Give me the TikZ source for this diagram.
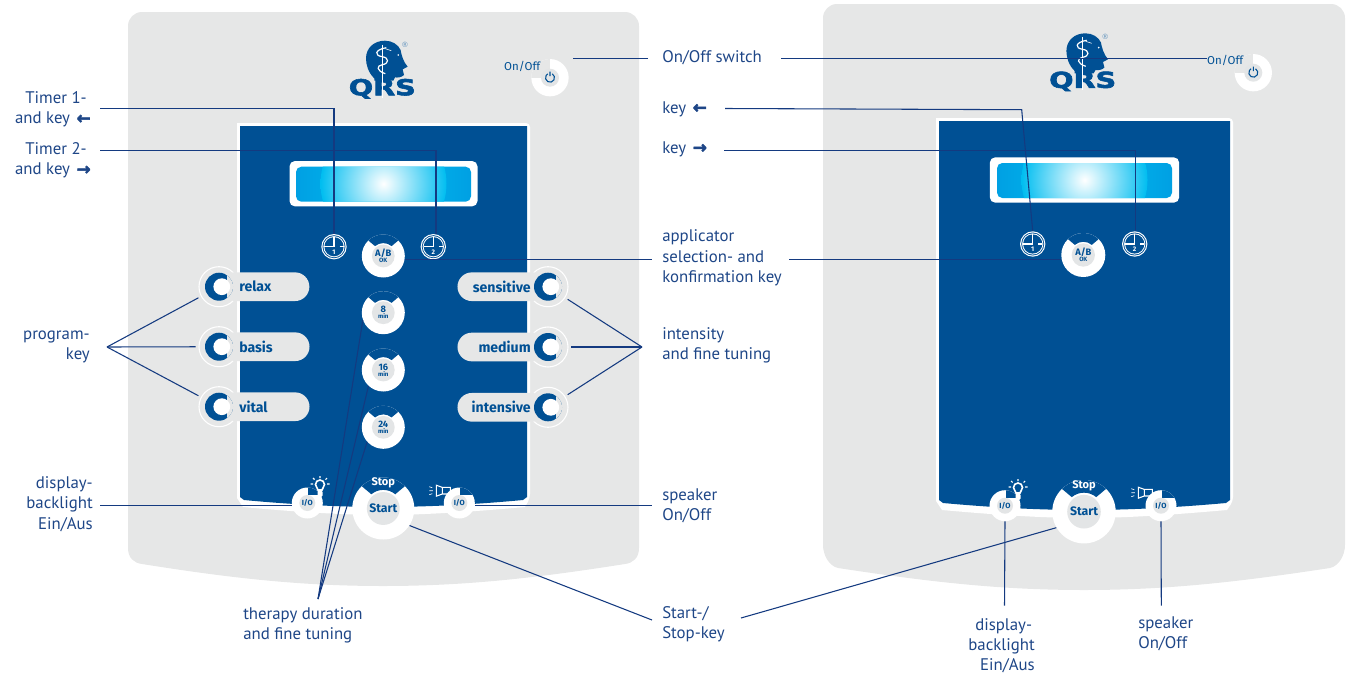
\documentclass[tikz,border=0pt]{standalone}
\usepackage{fontspec}
\setmainfont{PT Sans}
\newfontfamily\keyfont{Fira Sans}
\newfontfamily\symfont[BoldFeatures={FakeBold=2.5}]{DejaVu Sans}
\usetikzlibrary{positioning}
\usetikzlibrary{shapes.misc}
\definecolor{panelblue}{HTML}{005094}
\definecolor{panelgray}{HTML}{E6E7E7}
\definecolor{keygray}{HTML}{E3E5E6}
\definecolor{textblue}{HTML}{1E4687}
\definecolor{leaderblue}{HTML}{143A80}
\definecolor{dispedge}{HTML}{00A0E3}
\definecolor{dispglow}{HTML}{00BDF0}
\newcommand{\subkey}[1]{\\[-2.5pt]{\fontsize{4.6}{4.6}\selectfont #1}}
\tikzset{leader/.style={draw=leaderblue,line width=0.8pt}}
\tikzset{lbl/.style={text=textblue,inner sep=0pt,font=\fontsize{12.6}{15.2}\selectfont}}
\tikzset{lblL/.style={lbl,anchor=west,align=left}}
\tikzset{lblR/.style={lbl,anchor=east,align=right}}
\tikzset{keytext/.style={text=panelblue,inner sep=0pt,align=center,font=\keyfont\bfseries\fontsize{7}{7}\selectfont}}
\tikzset{starttext/.style={keytext,font=\keyfont\bfseries\fontsize{9.2}{10}\selectfont}}
\tikzset{iotext/.style={keytext,font=\keyfont\bfseries\fontsize{5.6}{6}\selectfont}}
\tikzset{clocktext/.style={text=white,inner sep=0pt,yshift=-3.8pt,font=\keyfont\bfseries\fontsize{5}{5}\selectfont}}
\tikzset{notchkey/.style={circle,fill=white,inner sep=0pt,minimum size=1.5pt*#1,
path picture={\begin{scope}[shift={(path picture bounding box.center)}]
\fill[panelblue] (135:1.2*#1) -- (130:0.6*#1) arc[start angle=130,end angle=50,radius=0.6*#1] -- (45:1.2*#1) -- (90:1.6*#1) -- cycle;
\fill[keygray] (0,0) circle (0.53*#1);
\end{scope}}}}
\tikzset{clockkey/.style={circle,fill=white,inner sep=0pt,minimum size=19pt,
path picture={\begin{scope}[shift={(path picture bounding box.center)}]
\fill[panelblue] (0,0) circle (11.5);
\fill[white] (0,0) circle (10.6);
\fill[panelblue] (0,0) circle (9.6);
\draw[white,line width=0.8pt] (0,9.6) -- (0,0) -- (-9.6,0) (5.5,0) -- (9.6,0);
\end{scope}}}}
\tikzset{iokey/.style={circle,fill=white,inner sep=0pt,minimum size=23.25pt,
path picture={\begin{scope}[shift={(path picture bounding box.center)},xscale=#1]
\fill[panelblue] (1,8) rectangle (18,18);
\fill[keygray] (0,0) circle (8);
\end{scope}}}}
\tikzset{powerkey/.style={circle,fill=white,inner sep=0pt,minimum size=28pt,
path picture={\begin{scope}[shift={(path picture bounding box.center)}]
\fill[panelgray] (-20,0) rectangle (0,20);
\fill[keygray] (0,0) circle (9);
\draw[panelblue,line width=0.8pt] (60:4.5) arc[start angle=60,end angle=-240,radius=4.5] (0,6) -- (0,1.5);
\end{scope}}}}
\tikzset{haloring/.style={circle,fill=panelgray,draw=white,line width=0.8pt,inner sep=0pt,minimum size=30pt,outer sep=2.5pt}}
\tikzset{ringkey/.style={circle,fill=panelblue,inner sep=0pt,minimum size=21pt,
path picture={\begin{scope}[shift={(path picture bounding box.center)},xscale=#1]
\fill[panelgray] (7.5,-15) rectangle (15,15);
\fill[white] (2.8,0) circle (8.4);
\end{scope}}}}
\tikzset{pillL/.style={rounded rectangle,rounded rectangle left arc=none,fill=panelgray,minimum height=21.5pt,inner xsep=5.25pt,inner ysep=0pt,
text width=46.5pt,align=left,text=panelblue,font=\keyfont\bfseries\fontsize{10.6}{11}\selectfont}}
\tikzset{pillR/.style={rounded rectangle,rounded rectangle right arc=none,fill=panelgray,minimum height=21.5pt,inner xsep=3pt,inner ysep=0pt,
text width=51pt,align=right,text=panelblue,font=\keyfont\bfseries\fontsize{10.6}{11}\selectfont}}
\tikzset{dispbox/.style={rectangle,rounded corners=4pt,fill=white,inner sep=0pt,minimum width=141pt,minimum height=34pt,
path picture={\begin{scope}[shift={(path picture bounding box.center)}]
\shade[left color=dispedge,right color=dispedge,middle color=dispglow] (-87.5,-18) rectangle (87.5,17);
\begin{scope}
\clip (-87.5,-18) rectangle (87.5,17);
\shade[inner color=white,outer color=dispglow] (0,0) circle (63);
\end{scope}
\end{scope}}}}
\tikzset{qrslogo/.pic={
\fill[panelblue] (-8,-19) -- (-8,-16.7) .. controls (-14,-11) and (-16.3,-3) .. (-16.3,3.3) .. controls (-16.3,14) and (-8,21) .. (2.7,21) .. controls (10,21) and (16,17) .. (18.3,11.7) .. controls (19,7) and (21,0) .. (25.3,-5) -- (20.3,-7.7) -- (21.7,-13.3) .. controls (19,-16) and (15,-16) .. (12.7,-15.7) -- (11,-19) -- cycle;
\node[text=panelblue,inner sep=0pt,xscale=1.3,font=\symfont\bfseries\fontsize{16.5}{17}\selectfont] (qrs) at (0,-27) {QRS};
\node[text=panelblue!60,inner sep=0pt,font=\symfont\fontsize{5.5}{6}\selectfont] (reg) at (22.7,17.3) {®};
\draw[white,line width=1pt] (0,17) -- (0,-36);
\draw[white,line width=0.9pt] (4,14) .. controls (-8,12) and (-8,6) .. (0,5) .. controls (7,4) and (7,-2) .. (0,-3) .. controls (-6,-4) and (-6,-9) .. (3,-12);
\draw[white,line width=0.4pt] (3,13) -- (9,11);
\fill[white] (16,6.7) circle (0.9);
}}
\tikzset{bulbicon/.pic={
\draw[white,line width=1.2pt] (-2,-3) .. controls (-2,-1) and (-4.5,0) .. (-4.5,2.5) arc[start angle=180,end angle=0,radius=4.5] .. controls (4.5,0) and (2,-1) .. (2,-3) -- cycle;
\fill[white,rounded corners=1pt] (-2.5,-3.5) rectangle (2.5,-10);
\draw[white,line width=0.8pt] (0,9) -- (0,11) (-7,3) -- (-9.5,3) (7,3) -- (9.5,3) (-5.5,7.5) -- (-7,9) (5.5,7.5) -- (7,9);
}}
\tikzset{speakericon/.pic={
\draw[white,line width=0.8pt] (0,-3.3) rectangle (8,3.3) (0,3.3) -- (-6,5.5) -- (-6,-5.5) -- (0,-3.3);
\draw[white,line width=0.5pt] (-13,4) -- (-10,3) (-13,0) -- (-9.5,0) (-13,-4) -- (-10,-3);
}}
\begin{document}
\begin{tikzpicture}[x=0.75pt,y=0.75pt]
    \useasboundingbox (0,0) rectangle (1346,-675);

    % left panel
    \fill[panelgray] (128,-548) .. controls (128,-558) and (134,-563) .. (142,-564) .. controls (230,-578) and (300,-586) .. (383,-586) .. controls (466,-586) and (536,-578) .. (625,-564) .. controls (633,-563) and (639,-558) .. (639,-548) -- (639,-26) arc[start angle=0,end angle=90,radius=14] -- (142,-12) arc[start angle=90,end angle=180,radius=14] -- cycle;
    \fill[white,rounded corners=3pt] (237,-123) -- (530,-123) -- (530,-498) [sharp corners] -- (525,-507) .. controls (470,-512) and (420,-515) .. (383,-515) .. controls (346,-515) and (296,-512) .. (243,-507) -- (237,-498) -- cycle;
    \fill[panelblue] (240,-126) -- (527,-126) -- (527,-497) -- (523,-500) .. controls (470,-505) and (420,-507) .. (383,-507) .. controls (346,-507) and (296,-505) .. (244,-500) -- (240,-497) -- cycle;
    \pic at (382.3,-61.7) {qrslogo};
    \node[dispbox] (dispA) at (383.5,-183.7) {};

    % left panel, keys
    \node[powerkey] (powerA) at (550,-77.7) {};
    \node[lbl,anchor=east,text=panelblue,font=\keyfont\fontsize{8.6}{9}\selectfont] (onoffA) at (540.5,-66) {On/Off};
    \node[clockkey,label={[clocktext]center:1}] (clockA) at (334,-246.7) {};
    \node[clockkey,label={[clocktext]center:2}] (clockB) at (433.3,-246.7) {};
    \node[notchkey=21.5,label={[keytext]center:{A/B\subkey{OK}}}] (keyAB) at (383.3,-256) {};
    \node[notchkey=21.5,label={[keytext]center:{8\subkey{min}}}] (keyEight) at (383.3,-312.7) {};
    \node[notchkey=21.5,label={[keytext]center:{16\subkey{min}}}] (keySixteen) at (383.3,-370) {};
    \node[notchkey=21.5,label={[keytext]center:{24\subkey{min}}}] (keyTwentyfour) at (383.3,-427.3) {};

    \node[haloring] (haloRelax) at (219,-286.7) {};
    \node[haloring] (haloBasis) at (219,-346.7) {};
    \node[haloring] (haloVital) at (219,-406.7) {};
    \node[pillL,anchor=west] (pillRelax) at (232,-286.7) {relax};
    \node[pillL,anchor=west] (pillBasis) at (232,-346.7) {basis};
    \node[pillL,anchor=west] (pillVital) at (232,-406.7) {vital};
    \node[ringkey=1] (ringRelax) at (219,-286.7) {};
    \node[ringkey=1] (ringBasis) at (219,-346.7) {};
    \node[ringkey=1] (ringVital) at (219,-406.7) {};

    \node[haloring] (haloSensitive) at (548,-286.7) {};
    \node[haloring] (haloMedium) at (548,-347) {};
    \node[haloring] (haloIntensive) at (548,-407.3) {};
    \node[pillR,anchor=east] (pillSensitive) at (535,-286.7) {sensitive};
    \node[pillR,anchor=east] (pillMedium) at (535,-347) {medium};
    \node[pillR,anchor=east] (pillIntensive) at (535,-407.3) {intensive};
    \node[ringkey=-1] (ringSensitive) at (548,-286.7) {};
    \node[ringkey=-1] (ringMedium) at (548,-347) {};
    \node[ringkey=-1] (ringIntensive) at (548,-407.3) {};

    \node[iokey=1,label={[iotext]center:I/O}] (ioA) at (307.3,-503) {};
    \node[iokey=-1,label={[iotext]center:I/O}] (ioB) at (459.3,-503) {};
    \node[notchkey=31,label={[starttext]center:Start}] (startA) at (383.3,-508.5) {};
    \node[text=white,inner sep=0pt,font=\keyfont\bfseries\fontsize{8.3}{9}\selectfont] (stopA) at (383.3,-483) {Stop};
    \pic at (320,-487) {bulbicon};
    \pic at (442.3,-490.7) {speakericon};

    % right panel
    \fill[panelgray] (823,-545) .. controls (823,-555) and (829,-566) .. (838,-568) .. controls (930,-582) and (1000,-590) .. (1084,-590) .. controls (1168,-590) and (1238,-582) .. (1330,-568) .. controls (1339,-566) and (1345,-555) .. (1345,-545) -- (1345,-18) arc[start angle=0,end angle=90,radius=14] -- (837,-4) arc[start angle=90,end angle=180,radius=14] -- cycle;
    \fill[white,rounded corners=3pt] (936,-118) -- (1233,-118) -- (1233,-501) [sharp corners] -- (1227,-510) .. controls (1170,-515) and (1125,-518) .. (1084,-518) .. controls (1043,-518) and (998,-515) .. (942,-510) -- (936,-501) -- cycle;
    \fill[panelblue] (939,-121) -- (1230,-121) -- (1230,-500) -- (1226,-503) .. controls (1170,-508) and (1125,-510) .. (1084,-510) .. controls (1043,-510) and (998,-508) .. (943,-503) -- (939,-500) -- cycle;
    \pic at (1082.7,-54.3) {qrslogo};
    \node[dispbox,minimum width=142pt] (dispB) at (1084.5,-180) {};

    % right panel, keys
    \node[powerkey] (powerB) at (1253.3,-72.7) {};
    \node[lbl,anchor=east,text=panelblue,font=\keyfont\fontsize{8.6}{9}\selectfont] (onoffB) at (1243.5,-60) {On/Off};
    \node[clockkey,label={[clocktext]center:1}] (clockC) at (1032.7,-244) {};
    \node[clockkey,label={[clocktext]center:2}] (clockD) at (1134.7,-244) {};
    \node[notchkey=22,label={[keytext]center:{A/B\subkey{OK}}}] (keyABb) at (1083.3,-255) {};
    \node[iokey=1,label={[iotext]center:I/O}] (ioC) at (1005,-505.7) {};
    \node[iokey=-1,label={[iotext]center:I/O}] (ioD) at (1161,-505.7) {};
    \node[notchkey=31.7,label={[starttext]center:Start}] (startB) at (1084,-511.7) {};
    \node[text=white,inner sep=0pt,font=\keyfont\bfseries\fontsize{8.3}{9}\selectfont] (stopB) at (1084,-486) {Stop};
    \pic at (1018,-490) {bulbicon};
    \pic at (1144.3,-492.7) {speakericon};

    % labels
    \node[lblR] (lblTimerA) at (91,-109.5) {Timer 1-\hspace*{3pt}\\and key\hspace{5pt}{\symfont\bfseries ←}};
    \node[lblR] (lblTimerB) at (91,-160.5) {Timer 2-\hspace*{3pt}\\and key\hspace{5pt}{\symfont\bfseries →}};
    \node[lblR] (lblProgram) at (90,-347) {program-\\key};
    \node[lblR] (lblBacklightA) at (93,-504) {display-\\backlight\hspace*{3pt}\\Ein/Aus};
    \node[lblL] (lblTherapy) at (243,-625) {therapy duration\\and fine tuning};
    \node[lblL] (lblSwitch) at (662,-58) {On/Off switch};
    \node[lblL] (lblKeyLeft) at (662,-109) {key\hspace{5pt}{\symfont\bfseries ←}};
    \node[lblL] (lblKeyRight) at (662,-149) {key\hspace{5pt}{\symfont\bfseries →}};
    \node[lblL] (lblApplicator) at (662,-258) {applicator\\selection- and\\konfirmation key};
    \node[lblL] (lblIntensity) at (662,-345) {intensity\\and fine tuning};
    \node[lblL] (lblSpeakerA) at (662,-506) {speaker\\On/Off};
    \node[lblL] (lblStart) at (662,-624) {Start-/\\Stop-key};
    \node[lblR] (lblBacklightB) at (1035,-645.7) {display-\hspace*{2pt}\\backlight\hspace*{3pt}\\Ein/Aus};
    \node[lblL] (lblSpeakerB) at (1138,-634) {speaker\\On/Off};

    % leader ends
    \coordinate (timerAend) at (100,-108.7);
    \coordinate (timerBend) at (100,-150.5);
    \coordinate (programApex) at (107,-347);
    \coordinate (intensityApex) at (642,-347);
    \coordinate (therapyApex) at (318,-599);
    \coordinate (switchEndA) at (648,-58.5);
    \coordinate (applicatorEndA) at (652,-259.5);
    \coordinate (backlightEndA) at (100,-505.5);
    \coordinate (speakerEndA) at (652,-505.5);
    \coordinate (startEndA) at (652,-620);
    \coordinate (switchEndB) at (781,-58.5);
    \coordinate (keyLeftEnd) at (725,-108.5);
    \coordinate (keyLeftBend) at (1021.7,-109.7);
    \coordinate (keyRightEnd) at (724,-150.5);
    \coordinate (applicatorEndB) at (789,-259.5);
    \coordinate (startEndB) at (741,-618);
    \coordinate (backlightEndB) at (1004.5,-605.7);
    \coordinate (speakerEndB) at (1161.3,-605.7);

    % leaders
    \draw[leader] (timerAend) -| (clockA.north);
    \draw[leader] (timerBend) -| ([xshift=2pt]clockB.north);
    \draw[leader] (programApex) -- (haloRelax);
    \draw[leader] (programApex) -- (haloBasis);
    \draw[leader] (programApex) -- (haloVital);
    \draw[leader] (intensityApex) -- (haloSensitive);
    \draw[leader] (intensityApex) -- (haloMedium);
    \draw[leader] (intensityApex) -- (haloIntensive);
    \draw[leader] (therapyApex) -- (keyEight.200);
    \draw[leader] (therapyApex) -- (keySixteen.227);
    \draw[leader] (therapyApex) -- (keyTwentyfour.222);
    \draw[leader] (switchEndA) -- ([xshift=3pt]powerA.east |- switchEndA);
    \draw[leader] (keyAB.east |- applicatorEndA) -- (applicatorEndA);
    \draw[leader] (backlightEndA) -- (ioA.west |- backlightEndA);
    \draw[leader] (ioB.east |- speakerEndA) -- (speakerEndA);
    \draw[leader] (startA.-33) -- (startEndA);
    \draw[leader] (switchEndB) -- (onoffB.west |- switchEndB);
    \draw[leader] (keyLeftEnd) -- (keyLeftBend) -- (clockC.north);
    \draw[leader] (keyRightEnd) -| ([xshift=0.8pt]clockD.north);
    \draw[leader] (applicatorEndB) -- (keyABb.west |- applicatorEndB);
    \draw[leader] (startB.210) -- (startEndB);
    \draw[leader] (ioC.south) -- (backlightEndB);
    \draw[leader] (ioD.south) -- (speakerEndB);
\end{tikzpicture}
\end{document}
